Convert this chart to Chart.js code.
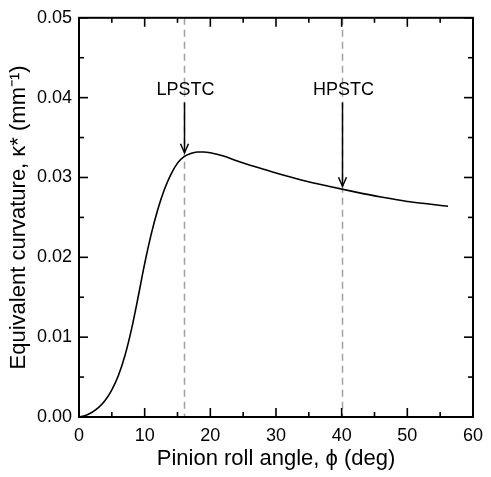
<!DOCTYPE html>
<html>
<head>
<meta charset="utf-8">
<script src="https://cdn.jsdelivr.net/npm/chart.js@4.4.1/dist/chart.umd.min.js"></script>
<style>
html,body{margin:0;padding:0;background:#fff;}
#wrap{width:491px;height:477px;}
</style>
</head>
<body>
<div id="wrap"><canvas id="c" width="491" height="477"></canvas></div>
<script>
// Data
const phi   = [0, 1, 2, 3, 4, 5, 6, 7, 8, 9, 10, 11, 12, 13, 14, 15, 16, 17, 18, 19, 20, 22, 24, 27, 30, 34, 38, 42, 46, 50, 53, 56.2];
const kappa = [0, 0.0002, 0.0006, 0.0012, 0.0021, 0.0034, 0.0052, 0.0077, 0.0110, 0.0150, 0.0192, 0.0229, 0.0260, 0.0285, 0.0304, 0.0318, 0.0326, 0.0330, 0.0332, 0.0332, 0.0331, 0.0327, 0.0321, 0.0313, 0.03055, 0.02965, 0.0289, 0.0282, 0.02755, 0.0270, 0.0267, 0.0264];
const markerPhi    = [16, 40];
const markerLabels = ['LPSTC', 'HPSTC'];
const arrowTip     = [0.0331, 0.0289];
const arrowTail    = [0.0394, 0.0394];
const labelY       = 0.0410;
const xTicks = [0, 10, 20, 30, 40, 50, 60];
const yTicks = [0.00, 0.01, 0.02, 0.03, 0.04, 0.05];
const xMinor = [5, 15, 25, 35, 45, 55];
const yMinor = [0.005, 0.015, 0.025, 0.035, 0.045];

const FONT = "'Liberation Sans', Arial, sans-serif";

const decor = {
  id: 'decor',
  beforeDatasetsDraw(chart) {
    const {ctx, chartArea: a, scales: {x}} = chart;
    ctx.save();
    ctx.strokeStyle = '#a0a0a0';
    ctx.lineWidth = 1.5;
    ctx.setLineDash([7, 5]);
    markerPhi.forEach(v => {
      const px = Math.round(x.getPixelForValue(v)) + 0.5;
      ctx.beginPath();
      ctx.moveTo(px, a.top);
      ctx.lineTo(px, a.bottom);
      ctx.stroke();
    });
    ctx.restore();
  },
  afterDatasetsDraw(chart) {
    const {ctx, scales: {x, y}} = chart;
    ctx.save();
    ctx.fillStyle = '#000';
    ctx.strokeStyle = '#000';
    ctx.lineWidth = 1.5;
    ctx.font = '18px ' + FONT;
    ctx.textAlign = 'center';
    ctx.textBaseline = 'middle';
    markerPhi.forEach((v, i) => {
      const px = Math.round(x.getPixelForValue(v)) + 0.5;
      ctx.fillText(markerLabels[i], px + 1, y.getPixelForValue(labelY));
      const y0 = y.getPixelForValue(arrowTail[i]);
      const y1 = y.getPixelForValue(arrowTip[i]);
      ctx.beginPath();
      ctx.moveTo(px, y0);
      ctx.lineTo(px, y1);
      ctx.stroke();
      ctx.beginPath();
      ctx.moveTo(px - 4, y1 - 9);
      ctx.lineTo(px, y1);
      ctx.lineTo(px + 4, y1 - 9);
      ctx.stroke();
    });
    ctx.restore();
  },
  afterDraw(chart) {
    const {ctx, chartArea: a, scales: {x, y}} = chart;
    ctx.save();
    ctx.strokeStyle = '#000';
    ctx.lineWidth = 2;
    ctx.strokeRect(a.left, a.top, a.right - a.left, a.bottom - a.top);
    const tick = (x0, y0, x1, y1) => { ctx.beginPath(); ctx.moveTo(x0, y0); ctx.lineTo(x1, y1); ctx.stroke(); };
    ctx.lineWidth = 1.6;
    xTicks.forEach(v => {
      const px = x.getPixelForValue(v);
      tick(px, a.bottom, px, a.bottom - 9);
      tick(px, a.top, px, a.top + 9);
    });
    xMinor.forEach(v => {
      const px = x.getPixelForValue(v);
      tick(px, a.bottom, px, a.bottom - 5);
      tick(px, a.top, px, a.top + 5);
    });
    yTicks.forEach(v => {
      const py = y.getPixelForValue(v);
      tick(a.left, py, a.left + 9, py);
      tick(a.right, py, a.right - 9, py);
    });
    yMinor.forEach(v => {
      const py = y.getPixelForValue(v);
      tick(a.left, py, a.left + 5, py);
      tick(a.right, py, a.right - 5, py);
    });
    ctx.restore();
  }
};

new Chart(document.getElementById('c'), {
  type: 'scatter',
  data: {
    datasets: [{
      data: phi.map((v, i) => ({x: v, y: kappa[i]})),
      showLine: true,
      borderColor: '#000',
      borderWidth: 1.6,
      pointRadius: 0,
      cubicInterpolationMode: 'monotone',
      fill: false
    }]
  },
  options: {
    responsive: false,
    animation: false,
    devicePixelRatio: 1,
    layout: {padding: {left: 0, right: 11, top: 15, bottom: 0}},
    plugins: {legend: {display: false}, tooltip: {enabled: false}},
    scales: {
      x: {
        type: 'linear',
        min: 0, max: 60,
        afterFit(s) { s.height = 60; },
        afterBuildTicks(s) { s.ticks = xTicks.map(v => ({value: v})); },
        grid: {display: false, drawTicks: false},
        border: {display: true, color: '#000', width: 2},
        ticks: {color: '#000', font: {family: FONT, size: 18}, padding: 8, maxRotation: 0,
                callback: v => String(v)},
        title: {display: true, text: 'Pinion roll angle, \u03D5 (deg)', color: '#000',
                font: {family: FONT, size: 22}, padding: {top: 0, bottom: 5}}
      },
      y: {
        type: 'linear',
        min: 0, max: 0.05,
        afterFit(s) { s.width = 79; },
        afterBuildTicks(s) { s.ticks = yTicks.map(v => ({value: v})); },
        grid: {display: false, drawTicks: false},
        border: {display: true, color: '#000', width: 2},
        ticks: {color: '#000', font: {family: FONT, size: 18}, padding: 7,
                callback: v => Number(v).toFixed(2)},
        title: {display: true, text: 'Equivalent curvature, \u03BA* (mm\u207B\u00B9)', color: '#000',
                font: {family: FONT, size: 22}, padding: {top: 6, bottom: 0}}
      }
    }
  },
  plugins: [decor]
});
</script>
</body>
</html>
